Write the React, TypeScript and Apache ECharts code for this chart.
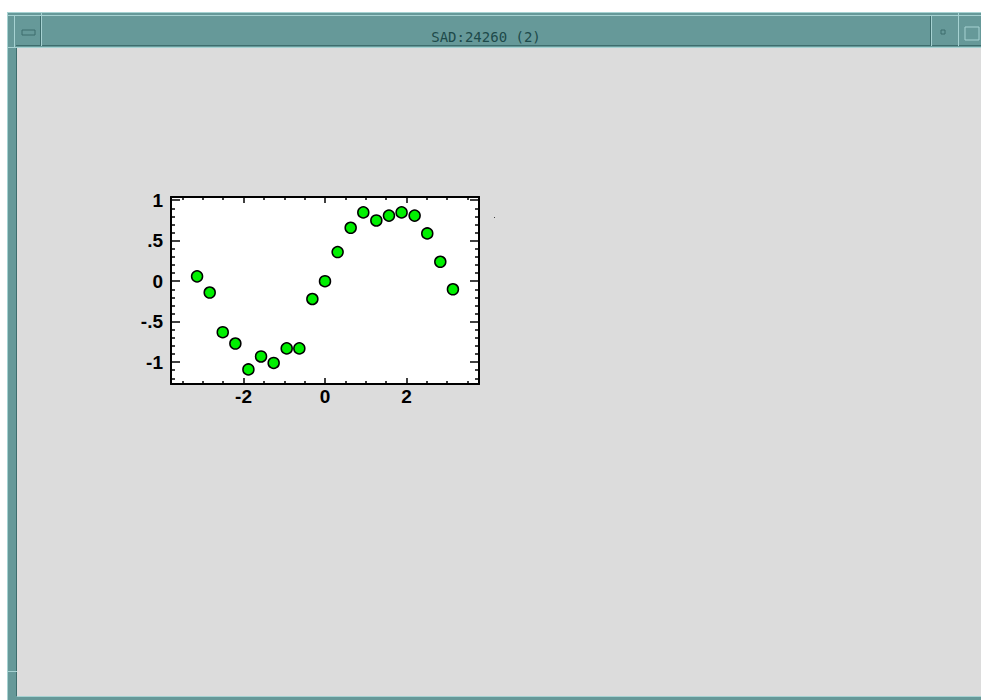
import React, { useEffect, useRef } from "react";
import * as echarts from "echarts";

const xValues = [-3.14, -2.83, -2.51, -2.2, -1.88, -1.57, -1.26, -0.94, -0.63, -0.31, 0, 0.31, 0.63, 0.94, 1.26, 1.57, 1.88, 2.2, 2.51, 2.83, 3.14];
const yValues = [0.06, -0.14, -0.63, -0.77, -1.09, -0.93, -1.01, -0.83, -0.83, -0.22, 0, 0.36, 0.66, 0.85, 0.75, 0.81, 0.85, 0.81, 0.59, 0.24, -0.1];
const xMajorTicks = [-2, 0, 2];
const xMinorTicks = [-3.5, -3, -2.5, -1.5, -1, -0.5, 0.5, 1, 1.5, 2.5, 3, 3.5];
const yMajorTicks = [-1, -0.5, 0, 0.5, 1];
const yMinorTicks = [-1.2, -1.1, -0.9, -0.8, -0.7, -0.6, -0.4, -0.3, -0.2, -0.1, 0.1, 0.2, 0.3, 0.4, 0.6, 0.7, 0.8, 0.9];
const windowTitle = "SAD:24260 (2)";

const X_MIN = -3.78, X_MAX = 3.78, Y_MIN = -1.27, Y_MAX = 1.04;

const fmtY = (v: number) => {
  if (v === 0) return "0";
  const s = String(v);
  return s.replace("0.", ".");
};

export default function App() {
  const ref = useRef<HTMLDivElement>(null);
  useEffect(() => {
    if (!ref.current) return;
    const chart = echarts.init(ref.current, undefined, { renderer: "svg" });
    const labelStyle = {
      color: "#000",
      fontFamily: "Liberation Sans, Arial, sans-serif",
      fontWeight: "bold" as const,
      fontSize: 19,
    };
    const line = { show: true, onZero: false, lineStyle: { color: "#000", width: 2 } };
    const noLine = { show: false, onZero: false };
    const mkX = (pos: string, major: boolean, showLine: boolean, showLabel: boolean) => ({
      type: "value",
      position: pos,
      min: X_MIN,
      max: X_MAX,
      z: 5,
      axisLine: showLine ? line : noLine,
      splitLine: { show: false },
      axisTick: {
        show: true,
        inside: true,
        length: major ? 6 : 3,
        lineStyle: { color: "#000", width: 1.5 },
        customValues: major ? xMajorTicks : xMinorTicks,
      },
      axisLabel: showLabel
        ? { show: true, margin: 3, customValues: xMajorTicks, formatter: (v: number) => String(v), ...labelStyle }
        : { show: false },
    });
    const mkY = (pos: string, major: boolean, showLine: boolean, showLabel: boolean) => ({
      type: "value",
      position: pos,
      min: Y_MIN,
      max: Y_MAX,
      z: 5,
      axisLine: showLine ? line : noLine,
      splitLine: { show: false },
      axisTick: {
        show: true,
        inside: true,
        length: major ? 9 : 4,
        lineStyle: { color: "#000", width: 1.5 },
        customValues: major ? yMajorTicks : yMinorTicks,
      },
      axisLabel: showLabel
        ? { show: true, margin: 8, customValues: yMajorTicks, formatter: fmtY, ...labelStyle }
        : { show: false },
    });

    const teal = "#669999";
    const light = "#a6d2d2";
    const dark = "#3d6d6d";
    const graphic: any[] = [
      { type: "rect", z: -10, shape: { x: 7, y: 12, width: 980, height: 690 }, style: { fill: teal } },
      { type: "line", z: -9, shape: { x1: 7.5, y1: 12, x2: 7.5, y2: 700 }, style: { stroke: light, lineWidth: 1 } },
      { type: "line", z: -9, shape: { x1: 7, y1: 12.5, x2: 981, y2: 12.5 }, style: { stroke: light, lineWidth: 1 } },
      { type: "line", z: -9, shape: { x1: 7, y1: 15.5, x2: 981, y2: 15.5 }, style: { stroke: light, lineWidth: 1 } },
      { type: "line", z: -9, shape: { x1: 14.5, y1: 15, x2: 14.5, y2: 48 }, style: { stroke: light, lineWidth: 1 } },
      { type: "line", z: -9, shape: { x1: 16, y1: 45.5, x2: 981, y2: 45.5 }, style: { stroke: dark, lineWidth: 1 } },
      { type: "line", z: -9, shape: { x1: 41.5, y1: 12, x2: 41.5, y2: 46 }, style: { stroke: light, lineWidth: 1 } },
      { type: "line", z: -9, shape: { x1: 40.5, y1: 16, x2: 40.5, y2: 46 }, style: { stroke: dark, lineWidth: 1 } },
      { type: "line", z: -9, shape: { x1: 930.5, y1: 16, x2: 930.5, y2: 46 }, style: { stroke: dark, lineWidth: 1 } },
      { type: "line", z: -9, shape: { x1: 931.5, y1: 16, x2: 931.5, y2: 46 }, style: { stroke: light, lineWidth: 1 } },
      { type: "line", z: -9, shape: { x1: 958.5, y1: 12, x2: 958.5, y2: 46 }, style: { stroke: light, lineWidth: 1 } },
      { type: "line", z: -9, shape: { x1: 7, y1: 47.5, x2: 981, y2: 47.5 }, style: { stroke: light, lineWidth: 1 } },
      { type: "line", z: -9, shape: { x1: 16.5, y1: 48, x2: 16.5, y2: 696 }, style: { stroke: dark, lineWidth: 1 } },
      { type: "line", z: -9, shape: { x1: 7, y1: 671.5, x2: 17, y2: 671.5 }, style: { stroke: light, lineWidth: 1 } },
      { type: "rect", z: -8, shape: { x: 22, y: 30, width: 13, height: 5 }, style: { fill: teal, stroke: dark, lineWidth: 1 } },
      { type: "rect", z: -8, shape: { x: 941, y: 30, width: 4, height: 4 }, style: { fill: teal, stroke: dark, lineWidth: 1 } },
      { type: "rect", z: -8, shape: { x: 965, y: 27, width: 14, height: 13 }, style: { fill: teal, stroke: light, lineWidth: 1 } },
      {
        type: "text",
        z: -8,
        x: 486,
        y: 37,
        style: {
          text: windowTitle,
          fill: "#1d4a4a",
          font: "14px 'DejaVu Sans Mono', monospace",
          align: "center",
          verticalAlign: "middle",
        },
      },
      { type: "rect", z: -9, shape: { x: 17, y: 48, width: 964, height: 648 }, style: { fill: "#dcdcdc" } },
      { type: "line", z: -9, shape: { x1: 17, y1: 696.5, x2: 981, y2: 696.5 }, style: { stroke: light, lineWidth: 1 } },
      { type: "rect", z: -8, shape: { x: 494, y: 217, width: 1, height: 1 }, style: { fill: "#444" } },
    ];

    chart.setOption({
      animation: false,
      backgroundColor: "#ffffff",
      graphic,
      grid: {
        left: 171,
        top: 197,
        right: 981 - 479,
        bottom: 700 - 384,
        show: true,
        backgroundColor: "#ffffff",
        borderWidth: 0,
      },
      xAxis: [
        mkX("bottom", true, true, true),
        mkX("bottom", false, false, false),
        mkX("top", true, true, false),
        mkX("top", false, false, false),
      ],
      yAxis: [
        mkY("left", true, true, true),
        mkY("left", false, false, false),
        mkY("right", true, true, false),
        mkY("right", false, false, false),
      ],
      series: [
        {
          type: "scatter",
          xAxisIndex: 0,
          yAxisIndex: 0,
          z: 10,
          symbol: "circle",
          symbolSize: 11,
          itemStyle: { color: "#00f000", borderColor: "#000", borderWidth: 1.5, opacity: 1 },
          data: xValues.map((x, i) => [x, yValues[i]]),
        },
      ],
    });
    return () => chart.dispose();
  }, []);
  return (
    <div
      ref={ref}
      style={{ position: "fixed", left: 0, top: 0, width: 981, height: 700 }}
    />
  );
}
